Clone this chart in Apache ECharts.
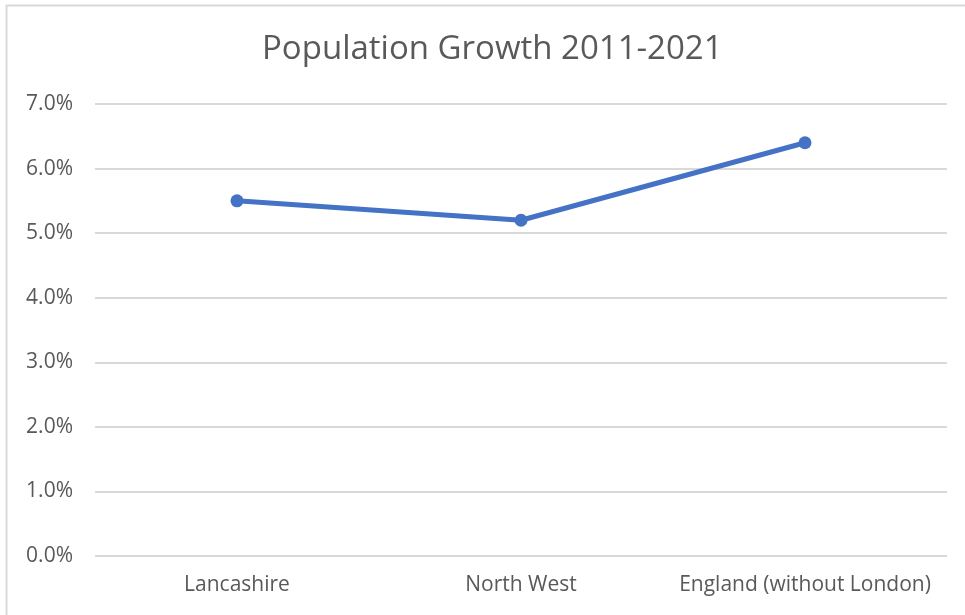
<!DOCTYPE html>
<html>
<head>
<meta charset="utf-8">
<script src="https://cdn.jsdelivr.net/npm/echarts@6/dist/echarts.min.js"></script>
<style>
  html, body { margin: 0; padding: 0; background: #fff; }
  #main { width: 965px; height: 615px; }
</style>
</head>
<body>
<div id="main"></div>
<script>
var regions = ['Lancashire', 'North West', 'England (without London)']
var growth = [5.5, 5.2, 6.4]
var yTicks = [0, 1, 2, 3, 4, 5, 6, 7]

var chart = echarts.init(document.getElementById('main'))
var font = 'Open Sans'
var option = {
	animation: false,
	backgroundColor: '#fff',
	graphic: [{
		type: 'rect',
		shape: { x: 6.5, y: 5.5, width: 1000, height: 700 },
		style: { fill: 'none', stroke: '#d9d9d9', lineWidth: 2 }
	}],
	title: {
		text: 'Population Growth 2011-2021',
		left: 257,
		top: 28,
		textStyle: { fontFamily: font, fontSize: 33, fontWeight: 'normal', color: '#595959' }
	},
	grid: { left: 95, right: 18, top: 104, bottom: 59, containLabel: false },
	xAxis: {
		type: 'category',
		data: regions,
		boundaryGap: true,
		axisLine: { show: false },
		axisTick: { show: false },
		axisLabel: { interval: 0, hideOverlap: false, margin: 19, fontFamily: font, fontSize: 21, color: '#595959' }
	},
	yAxis: {
		type: 'value',
		min: yTicks[0],
		max: yTicks[yTicks.length - 1],
		interval: 1,
		axisLine: { show: false },
		axisTick: { show: false },
		axisLabel: {
			margin: 22, fontFamily: font, fontSize: 21, color: '#595959',
			formatter: function (v) { return v.toFixed(1) + '%' }
		},
		splitLine: { lineStyle: { color: '#d9d9d9', width: 2 } }
	},
	series: [{
		type: 'line',
		data: growth,
		symbol: 'circle',
		symbolSize: 13,
		lineStyle: { color: '#4472C4', width: 5 },
		itemStyle: { color: '#4472C4' }
	}]
}
chart.setOption(option)
</script>
</body>
</html>
